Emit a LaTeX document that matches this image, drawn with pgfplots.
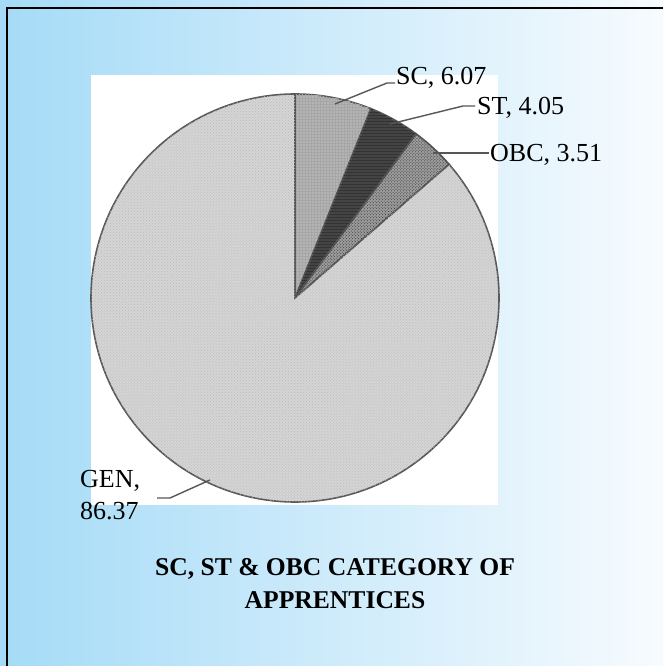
\documentclass[border=0pt]{standalone}
\usepackage{pgfplots}
\pgfplotsset{compat=1.18}
\usepackage{pgfplotstable}
\usepackage{fontspec}
\setmainfont{Liberation Serif}
\usetikzlibrary{patterns}
\definecolor{bgleft}{HTML}{A5DBF7}
\definecolor{bgright}{HTML}{F7FBFE}
\definecolor{scfill}{HTML}{B4B4B4}
\definecolor{stfill}{HTML}{444444}
\definecolor{obcfill}{HTML}{9C9C9C}
\definecolor{genfill}{HTML}{D5D5D5}
\definecolor{edge}{HTML}{575757}
\tikzset{
  slice0/.style={fill=scfill, postaction={pattern=grid, pattern color=gray!70}},
  slice1/.style={fill=stfill, postaction={pattern=horizontal lines, pattern color=black!80}},
  slice2/.style={fill=obcfill, postaction={pattern=crosshatch dots, pattern color=gray!40!black}},
  slice3/.style={fill=genfill, postaction={pattern=crosshatch dots, pattern color=gray!55}},
}
\pgfplotstableread{
name value
SC 6.07
ST 4.05
OBC 3.51
GEN 86.37
}\piedata
\begin{document}
\begin{tikzpicture}
\useasboundingbox (0,0) rectangle (663bp,666bp);
\shade[left color=bgleft, right color=bgright] (0,0) rectangle (663bp,666bp);
\draw[black, line width=2.2bp] (7bp,0) -- (7bp,658bp) -- (663bp,658bp);
\begin{axis}[at={(0,0)}, anchor=origin, x=1bp, y=1bp,
  xmin=0, xmax=663, ymin=0, ymax=666, hide axis, clip=false]
\fill[white] (axis cs:91,161) rectangle (axis cs:498,591);
\def\cum{0}
\pgfplotsforeachungrouped \i in {0,...,3}{%
  \pgfplotstablegetelem{\i}{value}\of\piedata
  \let\v\pgfplotsretval
  \pgfmathsetmacro\aS{90-3.6*\cum}%
  \pgfmathsetmacro\aE{90-3.6*(\cum+\v)}%
  \pgfmathsetmacro\cum{\cum+\v}%
  \edef\tmp{\noexpand\filldraw[slice\i, draw=edge, line width=1.6bp] (axis cs:295,368) -- ++(\aS:204bp) arc[start angle=\aS, end angle=\aE, radius=204bp] -- cycle;}%
  \tmp
}
\draw[edge, line width=1.4bp] (axis cs:335,562) -- (axis cs:387,583) -- (axis cs:395,583);
\draw[edge, line width=1.4bp] (axis cs:390,542) -- (axis cs:463,560) -- (axis cs:475,560);
\draw[edge, line width=1.4bp] (axis cs:433,513) -- (axis cs:489,513);
\draw[edge, line width=1.4bp] (axis cs:210,186) -- (axis cs:170,168) -- (axis cs:157,168);
\node[anchor=west, inner sep=0pt, font=\fontsize{26bp}{30bp}\selectfont] at (axis cs:396,588) {SC, 6.07};
\node[anchor=west, inner sep=0pt, font=\fontsize{26bp}{30bp}\selectfont] at (axis cs:477,558) {ST, 4.05};
\node[anchor=west, inner sep=0pt, font=\fontsize{26bp}{30bp}\selectfont] at (axis cs:490,511) {OBC, 3.51};
\node[anchor=west, inner sep=0pt, align=left, font=\fontsize{26bp}{32bp}\selectfont] at (axis cs:80,171) {GEN,\\86.37};
\node[inner sep=0pt, align=center, font=\fontsize{25.6bp}{33bp}\selectfont\bfseries] at (axis cs:335,82) {SC, ST \& OBC CATEGORY OF\\APPRENTICES};
\end{axis}
\end{tikzpicture}
\end{document}
